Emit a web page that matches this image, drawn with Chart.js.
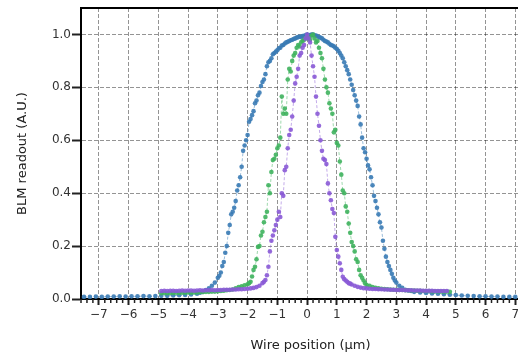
<!DOCTYPE html>
<html>
<head>
<meta charset="utf-8">
<script src="https://cdn.jsdelivr.net/npm/chart.js@4/dist/chart.umd.min.js"></script>
<style>
  html, body { margin: 0; padding: 0; background: #fff; overflow: hidden; }
  #wrap { width: 560px; height: 355px; }
</style>
</head>
<body>
<div id="wrap"><canvas id="scan"></canvas></div>
<script>
// wire scan profiles, positions in µm, BLM signal normalised to peak
const blueX = [-7.5,-7.3,-7.1,-6.9,-6.7,-6.5,-6.3,-6.1,-5.9,-5.7,-5.5,-5.3,-5.1,-4.9,-4.7,-4.5,-4.3,-4.1,-3.9,-3.7,
  -3.6,-3.5,-3.4,-3.3,-3.2,-3.1,
  -3.00,-2.95,-2.90,-2.85,-2.80,-2.75,-2.70,-2.65,-2.60,-2.55,-2.50,-2.45,-2.40,-2.35,-2.30,-2.25,-2.20,-2.15,-2.10,-2.05,
  -2.00,-1.95,-1.90,-1.85,-1.80,-1.75,-1.70,-1.65,-1.60,-1.55,-1.50,-1.45,-1.40,-1.35,-1.30,-1.25,-1.20,-1.15,-1.10,-1.05,
  -1.00,-0.95,-0.90,-0.85,-0.80,-0.75,-0.70,-0.65,-0.60,-0.55,-0.50,-0.45,-0.40,-0.35,-0.30,-0.25,-0.20,-0.15,-0.10,-0.05,
  0.00,0.05,0.10,0.15,0.20,0.25,0.30,0.35,0.40,0.45,0.50,0.55,0.60,0.65,0.70,0.75,0.80,0.85,0.90,0.95,
  1.00,1.05,1.10,1.15,1.20,1.25,1.30,1.35,1.40,1.45,1.50,1.55,1.60,1.65,1.70,1.75,1.80,1.85,1.90,1.95,
  2.00,2.05,2.10,2.15,2.20,2.25,2.30,2.35,2.40,2.45,2.50,2.55,2.60,2.65,2.70,2.75,2.80,2.85,2.90,2.95,3.00,
  3.1,3.2,3.3,3.4,3.5,3.6,
  3.8,4.0,4.2,4.4,4.6,4.8,5.0,5.2,5.4,5.6,5.8,6.0,6.2,6.4,6.6,6.8,7.0];
const blueY = [0.008,0.008,0.009,0.008,0.009,0.009,0.010,0.009,0.010,0.010,0.011,0.010,0.011,0.012,0.012,0.013,0.014,0.015,0.017,0.020,
  0.024,0.028,0.034,0.040,0.050,0.062,
  0.080,0.088,0.100,0.125,0.140,0.175,0.200,0.250,0.280,0.320,0.330,0.345,0.370,0.410,0.430,0.460,0.500,0.560,0.580,0.600,
  0.620,0.670,0.680,0.695,0.710,0.740,0.750,0.770,0.780,0.805,0.820,0.830,0.850,0.880,0.895,0.900,0.910,0.925,0.930,0.935,
  0.940,0.948,0.950,0.958,0.960,0.966,0.970,0.972,0.975,0.978,0.980,0.983,0.985,0.988,0.990,0.992,0.990,0.994,0.995,0.997,
  1.000,0.996,0.998,1.000,1.000,0.997,0.996,0.993,0.990,0.988,0.985,0.980,0.975,0.973,0.970,0.965,0.960,0.958,0.955,0.950,
  0.945,0.938,0.930,0.920,0.910,0.895,0.880,0.865,0.850,0.830,0.810,0.790,0.770,0.750,0.730,0.690,0.660,0.610,0.570,0.555,
  0.530,0.505,0.490,0.460,0.430,0.390,0.370,0.345,0.320,0.290,0.270,0.220,0.190,0.160,0.140,0.125,0.110,0.095,0.080,0.070,0.062,
  0.050,0.042,0.035,0.032,0.030,0.027,
  0.025,0.023,0.021,0.020,0.018,0.016,0.015,0.013,0.012,0.011,0.010,0.010,0.009,0.009,0.008,0.008,0.008];

const greenX = [-4.9,-4.8,-4.7,-4.6,-4.5,-4.4,-4.3,-4.2,-4.1,-4.0,-3.9,-3.8,-3.7,-3.6,-3.5,-3.4,-3.3,-3.2,-3.1,-3.0,
  -2.9,-2.8,-2.7,-2.6,-2.5,-2.4,-2.3,-2.2,-2.1,
  -2.00,-1.95,-1.90,-1.85,-1.80,-1.75,-1.70,-1.65,-1.60,-1.55,-1.50,-1.45,-1.40,-1.35,-1.30,-1.25,-1.20,-1.15,-1.10,-1.05,
  -1.00,-0.95,-0.90,-0.85,-0.80,-0.75,-0.70,-0.65,-0.60,-0.55,-0.50,-0.45,-0.40,-0.35,-0.30,-0.25,-0.20,-0.15,-0.10,-0.05,
  0.00,0.05,0.10,0.15,0.20,0.25,0.30,0.35,0.40,0.45,0.50,0.55,0.60,0.65,0.70,0.75,0.80,0.85,0.90,0.95,
  1.00,1.05,1.10,1.15,1.20,1.25,1.30,1.35,1.40,1.45,1.50,1.55,1.60,1.65,1.70,1.75,1.80,1.85,1.90,1.95,2.00,
  2.1,2.2,2.3,2.4,2.5,2.6,2.7,2.8,2.9,3.0,3.1,3.2,3.3,3.4,3.5,3.6,3.7,3.8,3.9,4.0,4.1,4.2,4.3,4.4,4.5,4.6,4.7,4.8];
const greenY = [0.022,0.023,0.022,0.023,0.023,0.024,0.023,0.024,0.024,0.025,0.024,0.025,0.025,0.026,0.026,0.027,0.027,0.028,0.028,0.029,
  0.030,0.031,0.033,0.034,0.036,0.040,0.045,0.048,0.052,
  0.056,0.060,0.065,0.085,0.110,0.122,0.150,0.197,0.200,0.240,0.254,0.290,0.310,0.330,0.430,0.400,0.480,0.525,0.530,0.545,
  0.570,0.580,0.610,0.765,0.700,0.720,0.700,0.830,0.870,0.860,0.900,0.920,0.930,0.950,0.960,0.955,0.970,0.975,0.980,0.985,
  0.990,0.985,0.980,0.995,1.000,0.985,0.970,0.975,0.950,0.930,0.910,0.870,0.830,0.800,0.780,0.740,0.720,0.700,0.630,0.640,
  0.590,0.580,0.520,0.470,0.410,0.400,0.350,0.330,0.285,0.250,0.215,0.200,0.180,0.150,0.140,0.110,0.090,0.080,0.070,0.060,0.053,
  0.050,0.045,0.042,0.040,0.039,0.038,0.037,0.036,0.035,0.035,0.034,0.034,0.033,0.033,0.032,0.032,0.031,0.031,0.030,0.030,
  0.030,0.029,0.029,0.029,0.028,0.028,0.028,0.027];

const purpleX = [-4.9,-4.8,-4.7,-4.6,-4.5,-4.4,-4.3,-4.2,-4.1,-4.0,-3.9,-3.8,-3.7,-3.6,-3.5,-3.4,-3.3,-3.2,-3.1,-3.0,
  -2.9,-2.8,-2.7,-2.6,-2.5,-2.4,-2.3,-2.2,-2.1,-2.0,-1.9,-1.8,-1.7,-1.6,
  -1.50,-1.45,-1.40,-1.35,-1.30,-1.25,-1.20,-1.15,-1.10,-1.05,-1.00,-0.95,-0.90,-0.85,-0.80,-0.75,-0.70,-0.65,-0.60,-0.55,
  -0.50,-0.45,-0.40,-0.35,-0.30,-0.25,-0.20,-0.15,-0.10,-0.05,
  0.00,0.05,0.10,0.15,0.20,0.25,0.30,0.35,0.40,0.45,0.50,0.55,0.60,0.65,0.70,0.75,0.80,0.85,0.90,0.95,
  1.00,1.05,1.10,1.15,1.20,1.25,1.30,1.35,1.40,1.45,1.50,
  1.6,1.7,1.8,1.9,2.0,2.1,2.2,2.3,2.4,2.5,2.6,2.7,2.8,2.9,3.0,3.1,3.2,3.3,3.4,3.5,3.6,3.7,3.8,3.9,4.0,4.1,4.2,4.3,4.4,4.5,4.6,4.7];
const purpleY = [0.030,0.031,0.030,0.031,0.031,0.030,0.031,0.032,0.031,0.032,0.032,0.031,0.032,0.033,0.032,0.033,0.033,0.034,0.033,0.034,
  0.034,0.035,0.035,0.035,0.036,0.036,0.037,0.037,0.038,0.039,0.040,0.042,0.045,0.050,
  0.060,0.065,0.072,0.090,0.122,0.180,0.220,0.240,0.260,0.280,0.300,0.330,0.310,0.400,0.390,0.487,0.500,0.570,0.620,0.640,
  0.690,0.750,0.815,0.840,0.870,0.920,0.930,0.950,0.960,0.985,
  1.000,0.985,0.970,0.920,0.880,0.840,0.765,0.700,0.655,0.600,0.560,0.530,0.525,0.510,0.437,0.400,0.373,0.340,0.325,0.235,
  0.185,0.160,0.135,0.110,0.084,0.075,0.070,0.065,0.060,0.058,0.055,
  0.050,0.046,0.043,0.041,0.040,0.039,0.038,0.038,0.037,0.037,0.036,0.036,0.035,0.035,0.034,0.034,0.034,0.033,0.033,0.033,
  0.032,0.032,0.032,0.031,0.031,0.031,0.031,0.030,0.030,0.030,0.030,0.030];

const xTicks = [-7,-6,-5,-4,-3,-2,-1,0,1,2,3,4,5,6,7];
const yTicks = [0,0.2,0.4,0.6,0.8,1.0];

const toPoints = (xs, ys) => xs.map((x, i) => ({ x: x, y: ys[i] }));

function series(label, xs, ys, color, order) {
  return {
    label: label,
    data: toPoints(xs, ys),
    showLine: true,
    borderColor: color + '80',
    borderWidth: 1,
    borderDash: [3, 2],
    backgroundColor: color + 'e6',
    pointRadius: 2.3,
    pointBorderWidth: 0,
    order: order,
  };
}

// minor ticks along the bottom axis and the top frame line
const frame = {
  id: 'frame',
  afterDraw(chart) {
    const { ctx, chartArea } = chart;
    const xs = chart.scales.x;
    ctx.save();
    ctx.strokeStyle = '#222';
    ctx.lineWidth = 1.5;
    for (let k = -38; k <= 39; k++) {
      if (k % 5 === 0) continue;
      const px = xs.getPixelForValue(k * 0.2);
      ctx.beginPath();
      ctx.moveTo(px, chartArea.bottom);
      ctx.lineTo(px, chartArea.bottom + 4);
      ctx.stroke();
    }
    ctx.lineWidth = 2;
    ctx.strokeStyle = '#000';
    ctx.beginPath();
    ctx.moveTo(chartArea.left - 1, chartArea.top);
    ctx.lineTo(chartArea.right, chartArea.top);
    ctx.stroke();
    ctx.restore();
  }
};

const tickFont = { family: '"DejaVu Sans", sans-serif', size: 12 };
const titleFont = { family: '"DejaVu Sans", sans-serif', size: 13 };

new Chart(document.getElementById('scan'), {
  type: 'scatter',
  data: {
    datasets: [
      series('wide', blueX, blueY, '#3a7bb5', 2),
      series('mid', greenX, greenY, '#3fb35e', 1),
      series('narrow', purpleX, purpleY, '#8a5ad6', 0),
    ],
  },
  options: {
    animation: false,
    responsive: true,
    maintainAspectRatio: false,
    layout: { padding: { left: 8, top: 8, right: 20, bottom: 0 } },
    plugins: { legend: { display: false }, tooltip: { enabled: false } },
    scales: {
      x: {
        type: 'linear',
        min: -7.6,
        max: 7.83,
        afterBuildTicks: (s) => { s.ticks = xTicks.map(v => ({ value: v })); },
        afterFit: (s) => { s.height = 56; s.paddingLeft = 0; s.paddingRight = 0; },
        grid: { color: 'rgba(0,0,0,0.42)', tickColor: '#222', tickLength: 6, tickWidth: 2 },
        border: { color: '#000', width: 2, dash: [4, 2] },
        ticks: {
          color: '#333',
          font: tickFont,
          padding: 3,
          maxRotation: 0,
          callback: (v) => (v < 0 ? '\u2212' + Math.abs(v) : String(v)),
        },
        title: { display: true, text: 'Wire position (μm)', color: '#222', font: titleFont, padding: { top: 0, bottom: 2 } },
      },
      y: {
        type: 'linear',
        min: 0,
        max: 1.1,
        afterBuildTicks: (s) => { s.ticks = yTicks.map(v => ({ value: v })); },
        afterFit: (s) => { s.width = 73; s.paddingTop = 0; s.paddingBottom = 0; },
        grid: { color: 'rgba(0,0,0,0.42)', tickColor: '#222', tickLength: 9, tickWidth: 2 },
        border: { color: '#000', width: 2, dash: [4, 2] },
        ticks: {
          color: '#333',
          font: tickFont,
          padding: 1,
          callback: (v) => v.toFixed(1),
        },
        title: { display: true, text: 'BLM readout (A.U.)', color: '#222', font: titleFont, padding: { top: 7, bottom: 0 } },
      },
    },
  },
  plugins: [frame],
});
</script>
</body>
</html>
